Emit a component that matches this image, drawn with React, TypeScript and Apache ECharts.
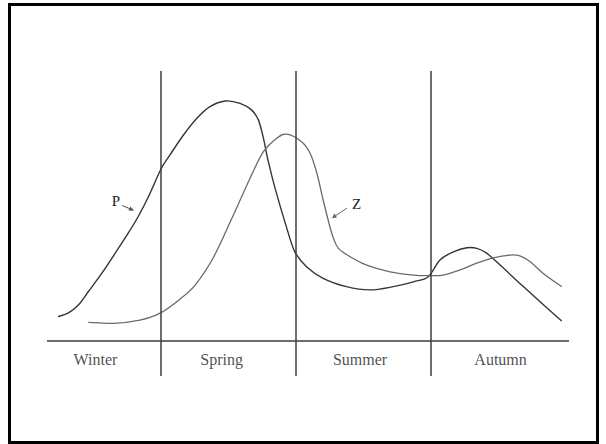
import React, { useEffect, useRef } from "react";
import * as echarts from "echarts";

// Position along the year (Winter 0-3, Spring 3-6, Summer 6-9, Autumn 9-12) and relative abundance
const pX = [0.71, 0.94, 1.16, 1.38, 1.68, 1.98, 2.27, 2.49, 2.72, 3.0, 3.2, 3.5, 3.8, 4.09, 4.43, 4.76, 5.02, 5.17, 5.28, 5.39, 5.54, 5.8, 5.98, 6.24, 6.61, 7.13, 7.65, 8.17, 8.62, 8.95, 9.21, 9.51, 9.81, 10.03, 10.25, 10.55, 10.99, 11.44, 11.92];
const pY = [9.0, 10.4, 13.3, 18.2, 25.0, 32.5, 39.9, 46.0, 53.4, 63.7, 68.9, 76.3, 82.5, 86.8, 88.9, 88.0, 85.5, 81.8, 75.1, 66.4, 56.5, 41.8, 33.0, 27.5, 23.2, 20.1, 18.9, 20.1, 21.9, 23.8, 30.0, 33.0, 34.5, 34.3, 32.5, 28.1, 21.3, 14.5, 7.4];

const zX = [1.38, 1.94, 2.53, 2.98, 3.4, 3.76, 4.16, 4.58, 4.98, 5.28, 5.58, 5.8, 6.13, 6.32, 6.47, 6.61, 6.76, 6.84, 6.95, 7.21, 7.58, 8.1, 8.62, 8.95, 9.28, 9.66, 10.03, 10.4, 10.77, 10.99, 11.22, 11.51, 11.92];
const zY = [6.9, 6.5, 7.7, 10.3, 15.2, 20.7, 30.7, 45.5, 60.2, 70.1, 75.1, 76.6, 73.8, 69.5, 62.1, 52.2, 42.3, 38.0, 34.3, 31.2, 28.1, 25.6, 24.4, 24.2, 24.4, 26.3, 28.8, 30.8, 31.8, 31.5, 29.3, 25.0, 20.1];

const seasonBoundaries = [3, 6, 9];
const seasons = ["Winter", "Spring", "Summer", "Autumn"];
const seasonLabelX = [1.54, 4.35, 7.43, 10.56];
const seasonLabelY = -7;

function splineSeries(name: string, xs: number[], ys: number[], color: string, width: number) {
  return {
    type: "custom",
    name,
    clip: false,
    silent: true,
    data: xs.map((x, i) => [x, ys[i]]),
    renderItem: (params: any, api: any) => {
      if (params.dataIndex !== 0) return null;
      const pts = xs.map((x, i) => api.coord([x, ys[i]]));
      const n = pts.length;
      let d = `M${pts[0][0]},${pts[0][1]}`;
      for (let i = 0; i < n - 1; i++) {
        const p0 = pts[i - 1] || pts[i];
        const p1 = pts[i];
        const p2 = pts[i + 1];
        const p3 = pts[i + 2] || pts[i + 1];
        const c1x = p1[0] + (p2[0] - p0[0]) / 6;
        const c1y = p1[1] + (p2[1] - p0[1]) / 6;
        const c2x = p2[0] - (p3[0] - p1[0]) / 6;
        const c2y = p2[1] - (p3[1] - p1[1]) / 6;
        d += ` C${c1x},${c1y} ${c2x},${c2y} ${p2[0]},${p2[1]}`;
      }
      return {
        type: "path",
        shape: { pathData: d },
        style: { fill: "none", stroke: color, lineWidth: width },
      };
    },
  };
}

export default function App() {
  const ref = useRef<HTMLDivElement>(null);
  useEffect(() => {
    document.body.style.margin = "0";
    if (!ref.current) return;
    const chart = echarts.init(ref.current, null, { renderer: "svg" });
    const serif = "'Liberation Serif', 'DejaVu Serif', serif";
    chart.setOption({
      animation: false,
      backgroundColor: "#ffffff",
      grid: { left: 47, right: 37, top: 71, bottom: 68 },
      xAxis: { type: "value", min: 0.462, max: 12.083, show: false },
      yAxis: { type: "value", min: -13, max: 100, show: false },
      series: [
        splineSeries("P", pX, pY, "#353535", 1.4),
        splineSeries("Z", zX, zY, "#6a6a6a", 1.3),
        {
          type: "line",
          data: [],
          markLine: {
            silent: true,
            symbol: "none",
            label: { show: false },
            lineStyle: { color: "#3c3c3c", width: 1.5, type: "solid" },
            data: [
              ...seasonBoundaries.map((b) => ({ xAxis: b })),
              { yAxis: 0 },
            ],
          },
        },
        {
          type: "scatter",
          symbolSize: 0,
          data: seasons.map((s, i) => [seasonLabelX[i], seasonLabelY, s]),
          label: {
            show: true,
            position: "inside",
            formatter: (p: any) => p.value[2],
            fontFamily: serif,
            fontSize: 16,
            color: "#222222",
          },
        },
      ],
      graphic: [
        {
          type: "rect",
          shape: { x: 9.5, y: 4.5, width: 588, height: 438 },
          style: { fill: "none", stroke: "#000000", lineWidth: 3 },
          silent: true,
        },
        {
          type: "text",
          x: 116,
          y: 201,
          style: { text: "P", font: `15px ${serif}`, fill: "#222222", align: "center", verticalAlign: "middle" },
        },
        {
          type: "line",
          shape: { x1: 122, y1: 205.5, x2: 133, y2: 210 },
          style: { stroke: "#555555", lineWidth: 1 },
        },
        {
          type: "polygon",
          shape: { points: [[134, 210.5], [128.5, 210.8], [130.3, 206.5]] },
          style: { fill: "#555555" },
        },
        {
          type: "text",
          x: 356.5,
          y: 204,
          style: { text: "Z", font: `15px ${serif}`, fill: "#222222", align: "center", verticalAlign: "middle" },
        },
        {
          type: "line",
          shape: { x1: 347, y1: 208, x2: 333, y2: 217.5 },
          style: { stroke: "#666666", lineWidth: 1 },
        },
        {
          type: "polygon",
          shape: { points: [[332, 218.3], [334.3, 213.6], [337, 217.4]] },
          style: { fill: "#666666" },
        },
      ],
    });
    return () => chart.dispose();
  }, []);
  return <div ref={ref} style={{ width: 606, height: 444 }} />;
}
